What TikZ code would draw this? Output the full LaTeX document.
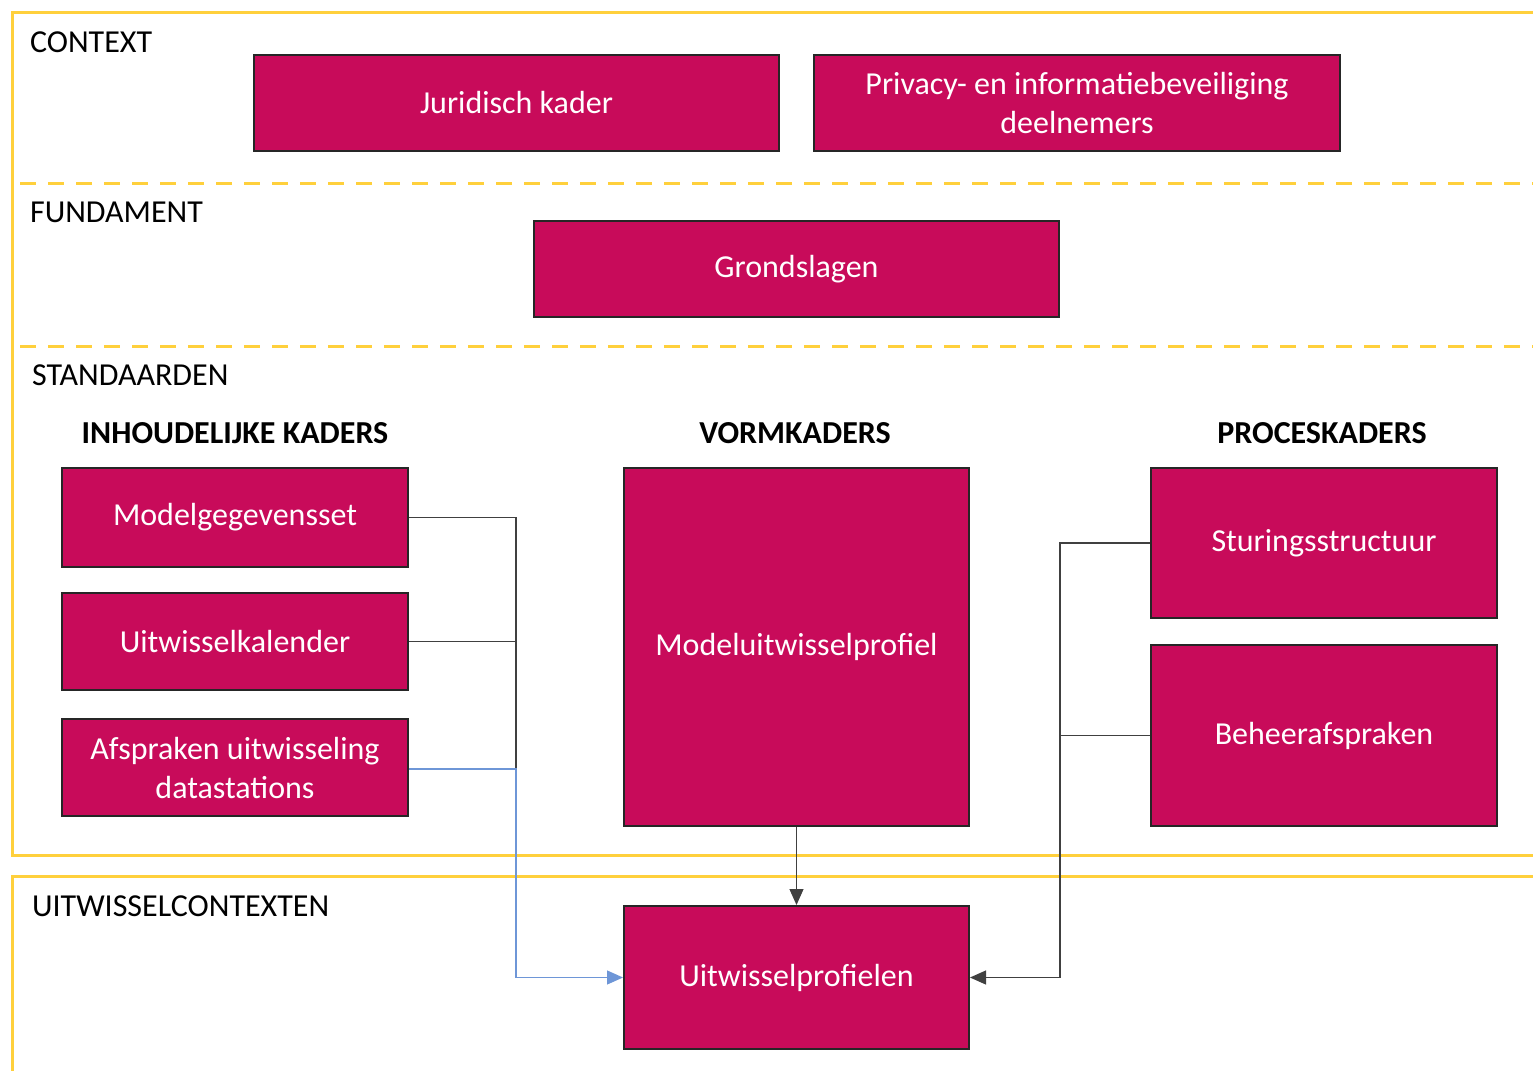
\documentclass[tikz,border=0pt]{standalone}
\usepackage{fontspec}
\setmainfont{Carlito}
\usetikzlibrary{arrows.meta}

\definecolor{kaderrood}{RGB}{200,11,90}
\definecolor{lijngeel}{RGB}{255,208,60}
\definecolor{lijnblauw}{RGB}{110,150,215}

\tikzset{
	kader/.style={draw=black!85, line width=1pt, fill=kaderrood, text=white, align=center, inner sep=0pt, font=\fontsize{16}{19.5}\selectfont},
	laag/.style={anchor=west, font=\fontsize{16}{19}\selectfont},
	kop/.style={font=\fontsize{16}{19}\selectfont\bfseries},
	grens/.style={draw=lijngeel, line width=1.5pt},
	verbind/.style={draw=black!75, line width=0.6pt},
	pijl/.style={-{Triangle[length=8pt,width=7pt]}},
}

\begin{document}
\begin{tikzpicture}[x=0.5pt,y=-0.5pt]
\useasboundingbox (0,0) rectangle (1533,1071);
\clip (0,0) rectangle (1533,1071);

% lagen
\draw[grens] (12,12) rectangle (1580,855);
\draw[grens, dash pattern=on 8pt off 6pt] (20,183) -- (1533,183);
\draw[grens, dash pattern=on 8pt off 6pt] (20,346) -- (1533,346);
\draw[grens] (12,1090) -- (12,876) -- (1580,876);

\node[laag] (context) at (23,42) {CONTEXT};
\node[laag] (fundament) at (23,212) {FUNDAMENT};
\node[laag] (standaarden) at (25,375) {STANDAARDEN};
\node[laag] (contexten) at (25,906) {UITWISSELCONTEXTEN};

% context en fundament
\node[kader, minimum width=262.5pt, minimum height=48pt] (JK) at (516.5,103) {Juridisch kader};
\node[kader, minimum width=263pt, minimum height=48pt] (PI) at (1077,103) {Privacy- en informatiebeveiliging\\deelnemers};
\node[kader, minimum width=262.5pt, minimum height=48pt] (GS) at (796.5,269) {Grondslagen};

% standaarden
\node[kop] (IK) at (235,433) {INHOUDELIJKE KADERS};
\node[kop] (VK) at (795,433) {VORMKADERS};
\node[kop] (PK) at (1322,433) {PROCESKADERS};

\node[kader, minimum width=173pt, minimum height=49.5pt] (MG) at (235,517.5) {Modelgegevensset};
\node[kader, minimum width=173pt, minimum height=48.5pt] (UK) at (235,641.5) {Uitwisselkalender};
\node[kader, minimum width=173pt, minimum height=48.5pt] (AU) at (235,767.5) {Afspraken uitwisseling\\datastations};
\node[kader, minimum width=172.5pt, minimum height=179pt] (MU) at (796.5,647) {Modeluitwisselprofiel};
\node[kader, minimum width=173pt, minimum height=75pt] (SS) at (1324,543) {Sturingsstructuur};
\node[kader, minimum width=173pt, minimum height=90.5pt] (BA) at (1324,735.5) {Beheerafspraken};

% uitwisselcontexten
\node[kader, minimum width=172.5pt, minimum height=71.5pt] (UP) at (796.5,977.5) {Uitwisselprofielen};

% verbindingen
\coordinate (knikL) at (516,769);
\coordinate (knikR) at (1060,977.5);
\draw[verbind] (MG.east) -| (knikL);
\draw[verbind] (UK.east) -- (UK.east -| knikL);
\draw[verbind, draw=lijnblauw, pijl] (AU.east |- knikL) -- (knikL) |- (UP.west);
\draw[verbind, pijl] (MU.south) -- (UP.north);
\draw[verbind, pijl] (SS.west) -| (knikR) -- (UP.east);
\draw[verbind] (BA.west) -- (BA.west -| knikR);
\end{tikzpicture}
\end{document}
